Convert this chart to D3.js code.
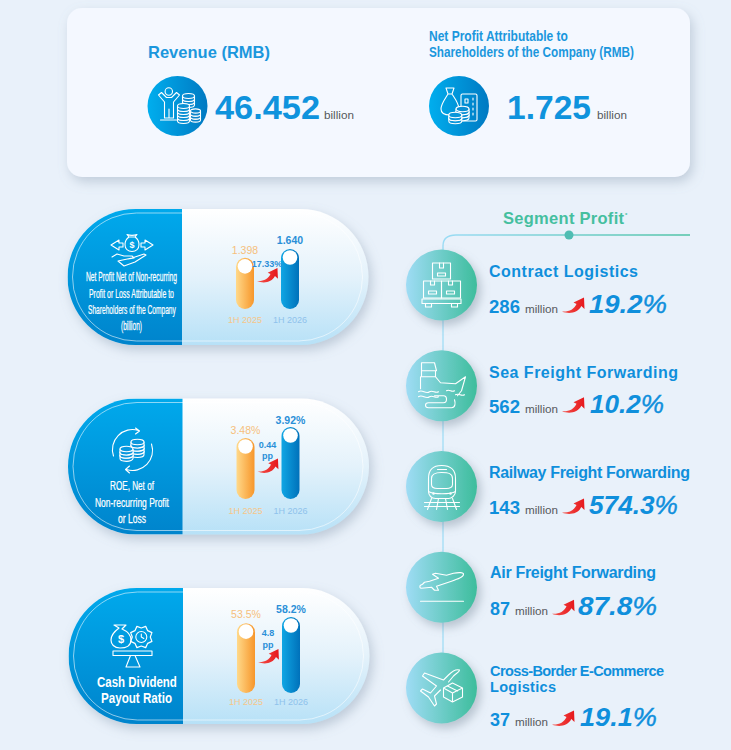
<!DOCTYPE html>
<html>
<head>
<meta charset="utf-8">
<script src="https://d3js.org/d3.v7.min.js"></script>
<style>
  html, body { margin: 0; padding: 0; background: #e9f1fa; }
  svg { display: block; font-family: "Liberation Sans", Arial, sans-serif; }
</style>
</head>
<body>
<div id="chart"></div>
<script>
// headline figures
let headTitles = [["Revenue (RMB)"], ["Net Profit Attributable to", "Shareholders of the Company (RMB)"]];
let headValues = ["46.452", "1.725"];

// pills
let pillTitles = [
  ["Net Profit Net of Non-recurring", "Profit or Loss Attributable to", "Shareholders of the Company", "(billion)"],
  ["ROE, Net of", "Non-recurring Profit", "or Loss"],
  ["Cash Dividend", "Payout Ratio"]
];
let periods = ["1H 2025", "1H 2026"];
let values2025 = [1.398, 3.48, 53.5];
let values2026 = [1.640, 3.92, 58.2];
let labels2025 = ["1.398", "3.48%", "53.5%"];
let labels2026 = ["1.640", "3.92%", "58.2%"];
let changeLabels = [["17.33%"], ["0.44", "pp"], ["4.8", "pp"]];

// segments
let segments = ["Contract Logistics", "Sea Freight Forwarding", "Railway Freight Forwarding", "Air Freight Forwarding", "Cross-Border E-Commerce|Logistics"];
let segmentProfit = [286, 562, 143, 87, 37];
let segmentGrowth = ["19.2", "10.2", "574.3", "87.8", "19.1"];

// layout, not data
let width = 731, height = 750;
let pillTops = [209, 398.5, 588];
let pillX = [67.5, 68, 68.5];
let pillW = 301, pillH = 136;
let pillSplit = 114.5;
let barBase = [100, 100.5, 105];     // from pill top
let barMax = [60, 72, 76];
let barFloor = [0, 1.04, 0];
let labelY2025 = [45, 35, 30];
let labelY2026 = [35, 25.5, 25];
let tickY = [114, 115, 117];
let changeY = [[58], [49, 60], [48, 60]];
let arrowY = [59, 60, 61];
let titleLines = [
  { y: [72, 89, 105, 121], x: [86, 89, 88, 121], w: [91, 85, 88, 21], size: 13, weight: "normal" },
  { y: [91, 108, 124], x: [110, 95, 118], w: [44, 74, 28], size: 13.5, weight: "normal" },
  { y: [99, 115], x: [97, 101], w: [80, 71], size: 14, weight: "bold" }
];
let nameW = [149, 189, 201, 166, 174];
let nameSize = [16, 16, 16, 16, 14.5];
let nameX = [489, 489, 489, 490, 490];
let profitW = [31, 31, 31, 20, 20];
let growthX = [589, 590, 589, 578, 580];
let growthW = [78, 74, 89, 79, 77];
let nameY = [-8, -8, -8.5, -9, -12];
let rowY = [28, 27, 27.5, 28, 38];

let svg = d3.select("#chart").append("svg").attr("width", width).attr("height", height);
let defs = svg.append("defs");

function gradient(id, stops, x2, y2) {
  let g = defs.append("linearGradient").attr("id", id)
    .attr("x1", 0).attr("y1", 0).attr("x2", x2).attr("y2", y2);
  stops.forEach(function (s, i) {
    g.append("stop").attr("offset", i / (stops.length - 1)).attr("stop-color", s);
  });
}
gradient("gBlueH", ["#00aeee", "#0079c2"], 1, 0);
gradient("gPillLeft", ["#00a9ec", "#0084cc"], 0, 1);
gradient("gPillRight", ["#ffffff", "#e4f2fb", "#b7e1f7"], 0, 1);
gradient("gOrange", ["#ffd98a", "#f7962a"], 1, 0);
gradient("gBar", ["#10a6e4", "#0071ba"], 1, 0);
gradient("gTeal", ["#9fdcf5", "#3dbd9c"], 1, 0);
defs.append("linearGradient").attr("id", "gLine").attr("gradientUnits", "userSpaceOnUse")
  .attr("x1", 443).attr("y1", 0).attr("x2", 690).attr("y2", 0)
  .call(function (g) {
    g.append("stop").attr("offset", 0).attr("stop-color", "#9bdcf5");
    g.append("stop").attr("offset", 1).attr("stop-color", "#4fc3a5");
  });
gradient("gArrow", ["#f4524a", "#e6171c"], 1, 0);

function shadow(id, dx, dy, blur, color, op) {
  defs.append("filter").attr("id", id)
    .attr("x", "-20%").attr("y", "-20%").attr("width", "140%").attr("height", "150%")
    .append("feDropShadow").attr("dx", dx).attr("dy", dy).attr("stdDeviation", blur)
    .attr("flood-color", color).attr("flood-opacity", op);
}
shadow("sCard", 3, 5, 6, "#7f93a8", 0.38);
shadow("sPill", 3, 5, 6, "#7f93a8", 0.42);
shadow("sDot", 4, 5, 5, "#6d7f92", 0.4);

// text helper, fit to the width measured in the picture
function txt(parent, x, y, s, size, fill, o) {
  o = o || {};
  let t = parent.append("text").attr("x", x).attr("y", y).text(s)
    .attr("font-size", size).attr("fill", fill)
    .attr("font-weight", o.weight || "normal")
    .attr("text-anchor", o.anchor || "start");
  if (o.italic) t.attr("font-style", "italic");
  if (o.tail) t.append("tspan").attr("font-weight", "normal").attr("stroke", fill).attr("stroke-width", 0.4).text(o.tail);
  if (o.w && o.adjust === "spacing") {
    t.attr("textLength", o.w).attr("lengthAdjust", "spacing");
  } else if (o.w) {
    // squeeze the glyphs sideways
    let k = o.w / t.node().getComputedTextLength();
    t.attr("x", 0).attr("y", 0).attr("transform", "translate(" + x + "," + y + ") scale(" + k + ",1)");
  }
  return t;
}

function redArrow(parent, x, y, k) {
  parent.append("path")
    .attr("transform", "translate(" + x + "," + y + ") scale(" + k + ")")
    .attr("d", "M0,14 C7,14.5 12,12 14.5,6.5 L11.5,5 L22,0 L22.5,11.5 L19.3,8.6 C16,15.5 7,17 0,14 Z")
    .attr("fill", "url(#gArrow)");
}

function icon(parent, x, y) {
  return parent.append("g").attr("transform", "translate(" + x + "," + y + ")")
    .attr("fill", "none").attr("stroke", "#fff").attr("stroke-width", 1.1)
    .attr("stroke-linejoin", "round").attr("stroke-linecap", "round");
}

function coins(g, cx, top, rx, n, step, fill) {
  for (let i = n - 1; i >= 0; i--) {
    let cy = top + i * step;
    g.append("path")
      .attr("d", "M" + (cx - rx) + "," + cy + " v" + step + " a" + rx + "," + (rx * 0.42) + " 0 0 0 " + (2 * rx) + ",0 v" + (-step) + " Z")
      .attr("fill", fill);
    g.append("ellipse").attr("cx", cx).attr("cy", cy).attr("rx", rx).attr("ry", rx * 0.42).attr("fill", fill);
  }
}

// top card
svg.append("rect").attr("x", 67).attr("y", 8).attr("width", 623).attr("height", 169)
  .attr("rx", 15).attr("fill", "#f4f8ff").attr("filter", "url(#sCard)");

txt(svg, 148, 58, headTitles[0][0], 16.5, "#1b97dd", { weight: "bold", w: 122, adjust: "spacing" });
txt(svg, 429, 41, headTitles[1][0], 15, "#1b97dd", { weight: "bold", w: 139 });
txt(svg, 429, 57, headTitles[1][1], 15, "#1b97dd", { weight: "bold", w: 205 });

let headX = [[177.5, 215, 105, 324], [459, 507, 84, 597]];
headValues.forEach(function (v, i) {
  svg.append("circle").attr("cx", headX[i][0]).attr("cy", 106).attr("r", 30).attr("fill", "url(#gBlueH)");
  txt(svg, headX[i][1], 119, v, 33.5, "#0f93dd", { weight: "bold", w: headX[i][2] });
  txt(svg, headX[i][3], 119, "billion", 11.5, "#55585c", { w: 30 });
});

let ic = icon(svg, 177.5, 106);
ic.append("circle").attr("cx", -8.7).attr("cy", -14.5).attr("r", 3.7);
ic.append("path").attr("d", "M-19,-11 L-16,-13.5 L-11,-8.5 L-6,-8.5 L-1,-13.5 L2,-11 L-4,-4 L-4,12 L-13,12 L-13,-4 Z M-8.5,12 L-8.5,3 M-17,14 L-1,14");
coins(ic, 11, -10, 6, 3, 3, "#0a8ad0");
coins(ic, 18, 5, 5, 3, 3, "#0a84ca");
coins(ic, 6, 0, 6, 5, 3, "#0a90d4");

ic = icon(svg, 459, 106);
ic.append("path").attr("d", "M-13,-18 L-5,-18 L-7,-12 C-3,-6 0,-2 0,3 C0,8 -4,9 -9,9 C-15,9 -18,7 -18,3 C-18,-2 -14,-7 -11,-12 Z M-11,-12 L-7,-12");
ic.append("rect").attr("x", 2).attr("y", -12).attr("width", 16).attr("height", 27).attr("rx", 1.5);
ic.append("rect").attr("x", 6).attr("y", -7).attr("width", 3).attr("height", 4);
ic.append("path").attr("d", "M14,-8 V11").attr("stroke-dasharray", "2 3");
coins(ic, 3.5, 3, 6.5, 3, 3, "#0a8fd4");
coins(ic, -3.7, 9, 6.5, 2, 3, "#0a96da");

// pills
pillTops.forEach(function (top, i) {
  let px = pillX[i];
  let g = svg.append("g").attr("transform", "translate(" + px + "," + top + ")");
  g.append("rect").attr("width", pillW).attr("height", pillH).attr("rx", pillH / 2)
    .attr("fill", "url(#gPillRight)").attr("filter", "url(#sPill)");
  let clipId = "clip" + i;
  defs.append("clipPath").attr("id", clipId).append("rect")
    .attr("width", pillSplit).attr("height", pillH);
  g.append("rect").attr("width", pillW).attr("height", pillH).attr("rx", pillH / 2)
    .attr("fill", "url(#gPillLeft)").attr("clip-path", "url(#" + clipId + ")");
  g.append("rect").attr("x", 5).attr("y", 4).attr("width", pillW - 11).attr("height", pillH - 8)
    .attr("rx", (pillH - 8) / 2).attr("fill", "none").attr("stroke", "#fff").attr("stroke-opacity", 0.8).attr("stroke-width", 0.7);

  // bars
  let x = d3.scalePoint().domain(periods).range([177.5, 222.5]);
  let y = d3.scaleLinear().domain([barFloor[i], values2026[i]]).range([barBase[i], barBase[i] - barMax[i]]);
  let rows = [
    { p: periods[0], v: values2025[i], label: labels2025[i], fill: "url(#gOrange)", labelY: labelY2025[i], c: "#f6bf7c", tick: "#f6c68a", w: "normal" },
    { p: periods[1], v: values2026[i], label: labels2026[i], fill: "url(#gBar)", labelY: labelY2026[i], c: "#2a8fd8", tick: "#8fc2ec", w: "bold" }
  ];
  let bw = 18;
  rows.forEach(function (d) {
    let bx = x(d.p) - bw / 2;
    g.append("rect").attr("x", bx).attr("y", y(d.v)).attr("width", bw)
      .attr("height", barBase[i] - y(d.v)).attr("rx", bw / 2).attr("fill", d.fill);
    g.append("circle").attr("cx", x(d.p)).attr("cy", y(d.v) + 8.5).attr("r", 7.3).attr("fill", "#fff");
    txt(g, x(d.p), d.labelY, d.label, 10.5, d.c, { anchor: "middle", weight: d.w });
    txt(g, x(d.p), tickY[i], d.p, 9, d.tick, { anchor: "middle" });
  });
  changeLabels[i].forEach(function (s, j) {
    txt(g, 199.5, changeY[i][j], s, 9, "#2a8fd8", { anchor: "middle", weight: "bold" });
  });
  redArrow(g, 189.5, arrowY[i], 0.93);

  // title on the blue side
  let t = titleLines[i];
  pillTitles[i].forEach(function (s, j) {
    let line = txt(svg, t.x[j], top + t.y[j], s, t.size, "#fff", { weight: t.weight, w: t.w[j] });
    if (t.weight === "normal") line.attr("stroke", "#fff").attr("stroke-width", 0.25);
  });
});

// pill icons
ic = icon(svg, 132, 247);
ic.append("path").attr("d", "M-3,-10 L-5,-12.5 C-2,-11.5 2,-11.5 5,-12.5 L3,-10 C6,-8 7,-5 7,-2.5 C7,2 4,4.5 0,4.5 C-4,4.5 -7,2 -7,-2.5 C-7,-5 -6,-8 -3,-10 Z M-3,-10 L3,-10");
txt(ic, 0, 1, "$", 9, "#fff", { anchor: "middle", weight: "bold" }).attr("stroke", "none");
ic.append("path").attr("d", "M-9,-4 H-13 V-7 L-21,-2 L-13,3 V0 H-9 Z M9,-4 H13 V-7 L21,-2 L13,3 V0 H9 Z");
ic.append("path").attr("d", "M-20,10 L-15,7 L-8,9 L0,9 L2,11 L-4,12 M0,11 L12,7 L14,8 L3,15 L-8,19 L-14,14 Z");

ic = icon(svg, 132.5, 450);
ic.append("path").attr("d", "M6,-19.5 A20,20 0 0 0 -19,6 M-6,19.5 A20,20 0 0 0 19,-6 M3,-22 L7,-19 L3,-16 M-3,16 L-7,19.5 L-3,23");
coins(ic, 5, -8, 6.5, 4, 3.2, "#0a98de");
coins(ic, -6, -1, 6.5, 3, 3.2, "#0a98de");

ic = icon(svg, 144, 642);
ic.append("path").attr("d", "M-25,-14 L-30,-17 L-18,-17 L-22,-13 C-15,-10 -13,-5 -13,-2 C-13,4 -18,6 -24,6 C-30,6 -33,2 -33,-2 C-33,-7 -29,-11 -25,-14 Z").attr("stroke-width", 1.2);
txt(ic, -23, 1, "$", 11, "#fff", { anchor: "middle", weight: "bold" }).attr("stroke", "none");
let gearPts = d3.range(16).map(function (k) {
  let r = k % 2 ? 11.5 : 9, a = k * Math.PI / 8;
  return [r * Math.cos(a), r * Math.sin(a)];
});
ic.append("path").attr("transform", "translate(-2.7,-5)").attr("d", d3.line().curve(d3.curveLinearClosed)(gearPts)).attr("stroke-width", 1.2);
ic.append("circle").attr("cx", -2.7).attr("cy", -5).attr("r", 5.5);
ic.append("path").attr("d", "M-2.7,-8 V-5 L-0.2,-3.5");
ic.append("rect").attr("x", -31).attr("y", 9).attr("width", 39).attr("height", 4.5).attr("stroke-width", 1.1);
ic.append("path").attr("d", "M-13.5,13.5 L-18,25 H-4 L-9,13.5");

// right column
txt(svg, 503, 224, "Segment Profit", 16.5, "#45bf9f", { weight: "bold", w: 121, adjust: "spacing" });
txt(svg, 625, 217, "*", 6, "#45bf9f", { weight: "bold" });

let segY = d3.scalePoint().domain(segments).range([285, 688]);

svg.append("path").attr("fill", "none").attr("stroke", "#9bdcf5").attr("stroke-width", 1.2)
  .attr("d", "M443,250 V" + segY(segments[4]));
svg.append("path").attr("fill", "none").attr("stroke", "url(#gLine)").attr("stroke-width", 1.4)
  .attr("d", "M443,250 V246 Q443,235 456,235 H690");
svg.append("circle").attr("cx", 569).attr("cy", 235).attr("r", 4.5).attr("fill", "#50bdb3");

segments.forEach(function (s, i) {
  let cy = segY(s);
  svg.append("circle").attr("cx", 441.5).attr("cy", cy).attr("r", 35.5)
    .attr("fill", "url(#gTeal)").attr("filter", "url(#sDot)");

  let lines = s.split("|");
  lines.forEach(function (l, j) {
    txt(svg, nameX[i], cy + nameY[i] + j * 16, l, nameSize[i], "#0f8fdc",
      { weight: "bold", w: j === 0 ? nameW[i] : 66, adjust: "spacing" });
  });

  let base = cy + rowY[i];
  txt(svg, nameX[i], base, segmentProfit[i], 17.5, "#0f8fdc", { weight: "bold", w: profitW[i] });
  let mx = nameX[i] + profitW[i] + 5;
  txt(svg, mx, base, "million", 11.5, "#55585c", { w: 33 });
  redArrow(svg, mx + 37, base - 15.5, 1);
  txt(svg, growthX[i], base, segmentGrowth[i], 25, "#0f8fdc", { weight: "bold", italic: true, w: growthW[i], tail: "%" });
});

// segment icons
function segIcon(i) { return icon(svg, 441.5, segY(segments[i])); }

ic = segIcon(0);
ic.append("rect").attr("x", -9).attr("y", -22).attr("width", 18).attr("height", 16);
ic.append("path").attr("d", "M-2,-22 V-17 H2 V-22");
ic.append("rect").attr("x", -4).attr("y", -12).attr("width", 8).attr("height", 3);
ic.append("rect").attr("x", -18).attr("y", -4).attr("width", 18).attr("height", 17);
ic.append("rect").attr("x", 0).attr("y", -4).attr("width", 19).attr("height", 17);
ic.append("path").attr("d", "M-11,-4 V0 H-7 V-4 M7,-4 V0 H11 V-4");
ic.append("rect").attr("x", -13).attr("y", 6).attr("width", 8).attr("height", 3);
ic.append("rect").attr("x", 5).attr("y", 6).attr("width", 8).attr("height", 3);
ic.append("rect").attr("x", -19.5).attr("y", 14).attr("width", 39).attr("height", 4.5);
ic.append("path").attr("d", "M-16,18.5 V22 H-10 V18.5 M10,18.5 V22 H16 V18.5");

ic = segIcon(1);
ic.append("path").attr("d", "M-20,-23 H-7 L-5,-15 H-20 Z M-20,-15 H-6 V-9 H-20 Z M-21,-9 V3 M-6,-9 L-1,-3 L14,-2 L24,-9 L20,5 L16,10");
ic.append("path").attr("d", "M-23,6 C-19,3 -16,9 -12,6 C-9,4 -6,8 -3,6 M-23,11 C-19,8 -16,14 -12,11 C-9,9 -6,13 -3,11 M5,5 C8,3 10,7 13,5 M14,9 C17,7 20,11 23,9");
ic.append("path").attr("d", "M-7,10 H2 C6,10 6,17 2,17 H-13 C-17,17 -17,22 -13,22 H10 C14,22 14,17 13,14");

ic = segIcon(2);
ic.append("path").attr("d", "M-13,-8 C-13,-18 -7,-21 0,-21 C7,-21 14,-18 14,-8 V5 C14,9 10,12 7,12 H-6 C-10,12 -13,9 -13,5 Z");
ic.append("path").attr("d", "M-10,-8 C-10,-13 -6,-14 0,-14 C7,-14 11,-13 11,-8 V-2 C11,1 8,2 5,2 H-4 C-8,2 -10,1 -10,-2 Z M-4,-17 H5 M-13,5 C-8,8 9,8 14,5");
ic.append("circle").attr("cx", -8).attr("cy", 7).attr("r", 0.7);
ic.append("circle").attr("cx", 9).attr("cy", 7).attr("r", 0.7);
ic.append("path").attr("d", "M-17,16 H18 M-17,20 H18 M-10,12 L-14,23 M-3,12 L-5,23 M4,12 L6,23 M11,12 L15,23");

ic = segIcon(3);
ic.append("path").attr("d", "M-21,-2 C-22,-1 -22,1 -20,1 L-10,0 L-7,3 L-3,3 L-5,-1 L10,-6 C16,-8 22,-10 22,-13 C22,-15 17,-15 12,-14 L5,-12 L-6,-14 L-9,-13 L-3,-9 L-12,-6 L-17,-5 L-19,-3 Z");
ic.append("path").attr("d", "M-21,14 H22");

ic = segIcon(4);
ic.append("path").attr("d", "M18,-18 C15,-19 11,-17 7,-13 L2,-8 L-17,-15 L-19,-12 L-5,-2 L-11,5 L-19,1 L-21,3 L-13,9 L-7,18 L-5,16 L-7,8 L-1,2 M7,-6 L12,-12 C15,-15 18,-16 18,-18");
ic.append("path").attr("d", "M2,0 L11,-5 L21,0 L21,9 L11,14 L2,9 Z M2,0 L11,5 L21,0 M11,5 V14 M6,-2 L16,3");
</script>
</body>
</html>
